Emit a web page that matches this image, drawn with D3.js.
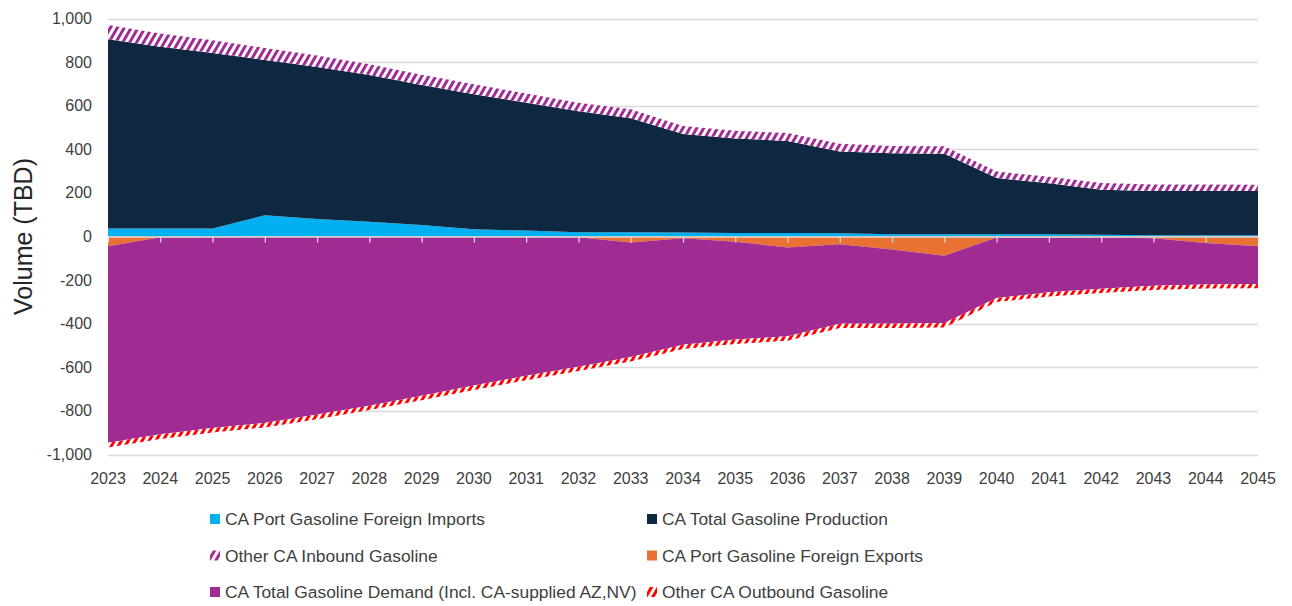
<!DOCTYPE html>
<html>
<head>
<meta charset="utf-8">
<script src="https://cdn.jsdelivr.net/npm/d3@7"></script>
<style>
  html, body { margin: 0; padding: 0; background: #ffffff; }
  svg { display: block; font-family: "Liberation Sans", Arial, sans-serif; }
</style>
</head>
<body>
<svg id="chart" width="1292" height="606"></svg>
<script>
// Years on the category axis
const years = ["2023","2024","2025","2026","2027","2028","2029","2030","2031","2032","2033",
               "2034","2035","2036","2037","2038","2039","2040","2041","2042","2043","2044","2045"];

// Supply (positive, thousand barrels per day)
const foreignImports = [37,37,37,98,80,68,53,33,27,19,19,18,16,16,15,10,10,10,10,8,6,6,6];
const totalProduction = [868,833,805,712,697,673,642,619,587,555,523,452,434,422,375,372,370,258,234,207,203,203,203];
const otherInbound = [65,61,58,55,53,49,47,46,42,40,42,37,35,37,35,33,34,30,30,30,29,29,28];

// Disposition (negative)
const foreignExports = [-45,-3,-3,-2,-2,-2,-2,-2,-2,-3,-28,-8,-24,-50,-35,-60,-88,-5,-6,-5,-8,-30,-45];
const totalDemand = [-901,-904,-875,-853,-815,-774,-729,-682,-637,-594,-525,-488,-449,-408,-365,-340,-309,-277,-250,-235,-218,-190,-173];
const otherOutbound = [-22,-22,-21,-21,-21,-20,-20,-20,-20,-20,-20,-20,-20,-20,-20,-20,-20,-19,-19,-19,-19,-19,-19];

// Value axis ticks
const yTicks = [1000,800,600,400,200,0,-200,-400,-600,-800,-1000];

// Series definitions (stack order + legend labels)
const seriesDefs = [
  {key: "imports",    label: "CA Port Gasoline Foreign Imports", values: foreignImports, fill: "#00B0F0"},
  {key: "production", label: "CA Total Gasoline Production", values: totalProduction, fill: "#0E2841"},
  {key: "inbound",    label: "Other CA Inbound Gasoline", values: otherInbound, fill: "url(#hatchPurple)"},
  {key: "exports",    label: "CA Port Gasoline Foreign Exports", values: foreignExports, fill: "#E97132"},
  {key: "demand",     label: "CA Total Gasoline Demand (Incl. CA-supplied AZ,NV)", values: totalDemand, fill: "#A02B93"},
  {key: "outbound",   label: "Other CA Outbound Gasoline", values: otherOutbound, fill: "url(#hatchRed)"}
];

const rows = years.map((y, i) => {
  const r = {year: y};
  seriesDefs.forEach(s => r[s.key] = s.values[i]);
  return r;
});

const svg = d3.select("#chart");

// Diagonal hatch patterns
const defs = svg.append("defs");
function hatch(id, color) {
  const p = defs.append("pattern")
    .attr("id", id)
    .attr("patternUnits", "userSpaceOnUse")
    .attr("width", 6).attr("height", 6)
    .attr("patternTransform", "rotate(30)");
  p.append("rect").attr("width", 6).attr("height", 6).attr("fill", "#ffffff");
  p.append("rect").attr("x", 0).attr("width", 3).attr("height", 6).attr("fill", color);
}
hatch("hatchPurple", "#A02B93");
hatch("hatchRed", "#FF0000");

const x = d3.scalePoint().domain(years).range([108, 1258]);
const y = d3.scaleLinear().domain([-1000, 1000]).range([454.5, 18.5]);

// Gridlines
svg.append("g").selectAll("line")
  .data(yTicks.filter(t => t !== 0))
  .join("line")
  .attr("x1", 108).attr("x2", 1258)
  .attr("y1", d => Math.round(y(d)) + 0.5).attr("y2", d => Math.round(y(d)) + 0.5)
  .attr("stroke", "#d9d9d9").attr("stroke-width", 1.3);

// Stacked areas, positives above zero and negatives below
const stack = d3.stack()
  .keys(seriesDefs.map(s => s.key))
  .offset(d3.stackOffsetDiverging);
const stacked = stack(rows);

const area = d3.area()
  .x(d => x(d.data.year))
  .y0(d => y(d[0]))
  .y1(d => y(d[1]));

svg.append("g").selectAll("path")
  .data(stacked)
  .join("path")
  .attr("d", area)
  .attr("fill", d => seriesDefs.find(s => s.key === d.key).fill);

// Category axis at zero
const xAxis = d3.axisBottom(x).tickSize(6).tickFormat("");
const axisG = svg.append("g")
  .attr("transform", `translate(0,${y(0)})`)
  .call(xAxis);
axisG.select(".domain").attr("stroke", "#d9d9d9").attr("stroke-width", 1.3)
  .attr("d", `M108,0.5H1258`);
axisG.selectAll(".tick line").attr("stroke", "#d9d9d9").attr("stroke-width", 1.3);

// Year labels below the plot
svg.append("g").selectAll("text")
  .data(years)
  .join("text")
  .attr("x", d => x(d))
  .attr("y", 484)
  .attr("text-anchor", "middle")
  .attr("font-size", 16)
  .attr("fill", "#404040")
  .text(d => d);

// Value axis labels (plain hyphen for negatives)
const fmt = v => d3.format(",")(Math.abs(v)).replace(/^/, v < 0 ? "-" : "");
svg.append("g").selectAll("text")
  .data(yTicks)
  .join("text")
  .attr("x", 92)
  .attr("y", d => y(d) + 5.5)
  .attr("text-anchor", "end")
  .attr("font-size", 16)
  .attr("fill", "#404040")
  .text(d => fmt(d));

// Axis title
svg.append("text")
  .attr("transform", `translate(32,${y(0)}) rotate(-90)`)
  .attr("text-anchor", "middle")
  .attr("font-size", 25)
  .attr("fill", "#262626")
  .text("Volume (TBD)");

// Legend
const legendItems = [
  {def: seriesDefs[0], col: 0, row: 0},
  {def: seriesDefs[1], col: 1, row: 0},
  {def: seriesDefs[2], col: 0, row: 1},
  {def: seriesDefs[3], col: 1, row: 1},
  {def: seriesDefs[4], col: 0, row: 2},
  {def: seriesDefs[5], col: 1, row: 2}
];
const colX = [210, 647];
const rowY = [519, 555.5, 592];
const lg = svg.append("g").selectAll("g")
  .data(legendItems)
  .join("g")
  .attr("transform", d => `translate(${colX[d.col]},${rowY[d.row]})`);
lg.append("rect")
  .attr("x", 0).attr("y", -5).attr("width", 10).attr("height", 10)
  .attr("fill", d => d.def.fill);
lg.append("text")
  .attr("x", 15).attr("y", 6)
  .attr("font-size", 17.4)
  .attr("fill", "#404040")
  .text(d => d.def.label);
</script>
</body>
</html>
